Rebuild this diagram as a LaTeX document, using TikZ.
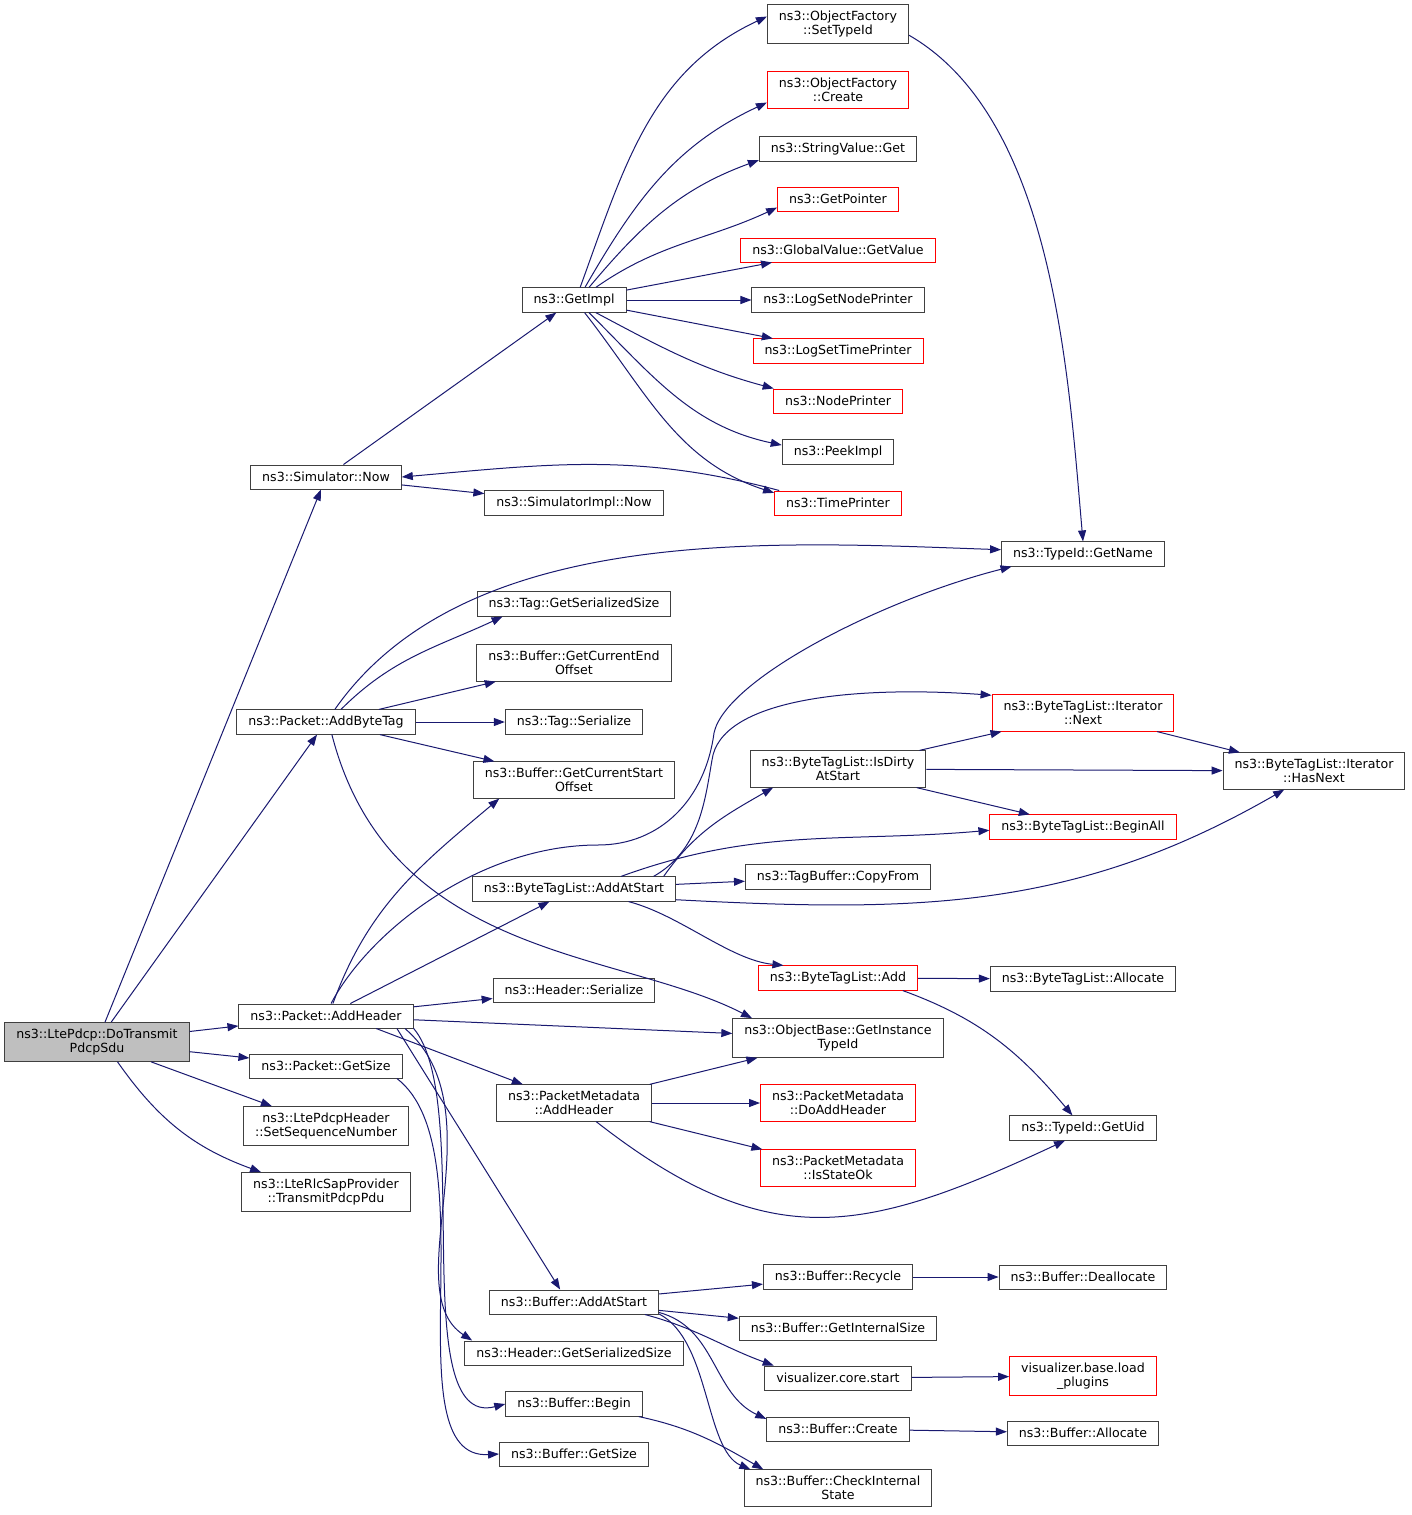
\documentclass[tikz,border=0pt]{standalone}
\usepackage{fontspec}
\setmainfont{DejaVu Sans}
\usetikzlibrary{arrows.meta}
\definecolor{callblue}{HTML}{191970}
\definecolor{boxline}{HTML}{404040}
\definecolor{rootgrey}{HTML}{BFBFBF}
\tikzset{
	fn/.style={draw=boxline, line width=1pt, fill=white, align=center, inner xsep=11.5pt, inner ysep=6pt, minimum height=24pt, font=\fontsize{12.6}{14.5}\selectfont},
	fnred/.style={fn, draw=red},
	fnroot/.style={fn, fill=rootgrey},
	call/.style={draw=callblue, line width=1pt, -{Triangle[length=11pt,width=8pt]}}
}

\begin{document}
\begin{tikzpicture}[x=1pt, y=1pt]
			%%%%% START %%%%%
			\fill[white] (0, 0) rectangle (1411, -1515);
			
			\node[fnroot] (main) at (97, -1042) {ns3::LtePdcp::DoTransmit\\PdcpSdu};
			
			\node[fn] (simnow) at (326, -477) {ns3::Simulator::Now};
			\node[fn] (simimplnow) at (574, -503) {ns3::SimulatorImpl::Now};
			\node[fn] (getimpl) at (574, -300) {ns3::GetImpl};
			
			\node[fn] (settypeid) at (838, -24) {ns3::ObjectFactory\\::SetTypeId};
			\node[fnred] (create) at (838, -90) {ns3::ObjectFactory\\::Create};
			\node[fn] (strget) at (838, -149) {ns3::StringValue::Get};
			\node[fnred] (getptr) at (838, -199) {ns3::GetPointer};
			\node[fnred] (getvalue) at (838, -250) {ns3::GlobalValue::GetValue};
			\node[fn] (lognode) at (838, -300) {ns3::LogSetNodePrinter};
			\node[fnred] (logtime) at (838, -351) {ns3::LogSetTimePrinter};
			\node[fnred] (nodeprn) at (838, -401) {ns3::NodePrinter};
			\node[fn] (peekimpl) at (838, -452) {ns3::PeekImpl};
			\node[fnred] (timeprn) at (838, -503) {ns3::TimePrinter};
			\node[fn] (getname) at (1083, -554) {ns3::TypeId::GetName};
			
			\node[fn] (addbytetag) at (326, -722) {ns3::Packet::AddByteTag};
			\node[fn] (taggss) at (574, -604) {ns3::Tag::GetSerializedSize};
			\node[fn] (curend) at (574, -663) {ns3::Buffer::GetCurrentEnd\\Offset};
			\node[fn] (tagser) at (574, -722) {ns3::Tag::Serialize};
			\node[fn] (curstart) at (574, -780) {ns3::Buffer::GetCurrentStart\\Offset};
			
			\node[fnred] (itnext) at (1083, -713) {ns3::ByteTagList::Iterator\\::Next};
			\node[fn] (isdirty) at (838, -769) {ns3::ByteTagList::IsDirty\\AtStart};
			\node[fn] (hasnext) at (1314, -771) {ns3::ByteTagList::Iterator\\::HasNext};
			\node[fnred] (beginall) at (1083, -827) {ns3::ByteTagList::BeginAll};
			\node[fn] (copyfrom) at (838, -877) {ns3::TagBuffer::CopyFrom};
			\node[fn] (btladdstart) at (574, -889) {ns3::ByteTagList::AddAtStart};
			\node[fnred] (btladd) at (838, -978) {ns3::ByteTagList::Add};
			\node[fn] (btlalloc) at (1083, -979) {ns3::ByteTagList::Allocate};
			
			\node[fn] (hdrser) at (574, -990) {ns3::Header::Serialize};
			\node[fn] (addheader) at (326, -1016) {ns3::Packet::AddHeader};
			\node[fn] (insttype) at (838, -1038) {ns3::ObjectBase::GetInstance\\TypeId};
			\node[fn] (pktsize) at (326, -1066) {ns3::Packet::GetSize};
			\node[fn] (pmaddhdr) at (574, -1103) {ns3::PacketMetadata\\::AddHeader};
			\node[fnred] (pmdoadd) at (838, -1103) {ns3::PacketMetadata\\::DoAddHeader};
			\node[fn] (setseq) at (326, -1126) {ns3::LtePdcpHeader\\::SetSequenceNumber};
			\node[fn] (getuid) at (1083, -1128) {ns3::TypeId::GetUid};
			\node[fnred] (pmstate) at (838, -1168) {ns3::PacketMetadata\\::IsStateOk};
			\node[fn] (transmit) at (326, -1192) {ns3::LteRlcSapProvider\\::TransmitPdcpPdu};
			
			\node[fn] (bufaddstart) at (574, -1302) {ns3::Buffer::AddAtStart};
			\node[fn] (recycle) at (838, -1277) {ns3::Buffer::Recycle};
			\node[fn] (dealloc) at (1083, -1277) {ns3::Buffer::Deallocate};
			\node[fn] (intsize) at (838, -1328) {ns3::Buffer::GetInternalSize};
			\node[fn] (hdrgss) at (574, -1353) {ns3::Header::GetSerializedSize};
			\node[fn] (vizstart) at (838, -1378) {visualizer.core.start};
			\node[fnred] (vizload) at (1083, -1376) {visualizer.base.load\\\_plugins};
			\node[fn] (bufbegin) at (574, -1404) {ns3::Buffer::Begin};
			\node[fn] (bufcreate) at (838, -1429) {ns3::Buffer::Create};
			\node[fn] (bufalloc) at (1083, -1433) {ns3::Buffer::Allocate};
			\node[fn] (bufsize) at (574, -1454) {ns3::Buffer::GetSize};
			\node[fn] (checkstate) at (838, -1488) {ns3::Buffer::CheckInternal\\State};
			
			% calls of the root
			\draw[call] (main) -- (simnow);
			\draw[call] (main) -- (addbytetag);
			\draw[call] (main) -- (addheader);
			\draw[call] (main) -- (pktsize);
			\draw[call] (main) -- (setseq);
			\draw[call] (main.-44) to[out=-55, in=160] (transmit.163);
			
			% simulator
			\draw[call] (simnow) -- (getimpl);
			\draw[call] (simnow) -- (simimplnow);
			\draw[call] (getimpl.64) to[out=70, in=205] (settypeid.174);
			\draw[call] (getimpl.49) to[out=60, in=205] (create.190);
			\draw[call] (getimpl.40) to[out=50, in=200] (strget.188);
			\draw[call] (getimpl.30) to[out=35, in=205] (getptr.188);
			\draw[call] (getimpl) -- (getvalue);
			\draw[call] (getimpl) -- (lognode);
			\draw[call] (getimpl) -- (logtime);
			\draw[call] (getimpl.-30) to[out=-28, in=165] (nodeprn.169);
			\draw[call] (getimpl.-40) to[out=-45, in=168] (peekimpl.173);
			\draw[call] (getimpl.-50) to[out=-52, in=162] (timeprn.171);
			\draw[call] (timeprn.168) to[out=165, in=5] (simnow.east);
			\draw[call] (settypeid.-9) to[out=-30, in=95, looseness=0.8] (getname.north);
			
			% byte tags
			\draw[call] (addbytetag.55) to[out=55, in=178, looseness=0.85] (getname.177);
			\draw[call] (addbytetag.40) to[out=45, in=205] (taggss.190);
			\draw[call] (addbytetag) -- (curend);
			\draw[call] (addbytetag) -- (tagser);
			\draw[call] (addbytetag) -- (curstart);
			\draw[call] (addbytetag.-65) .. controls (390, -960) and (620, -950) .. (insttype.167);
			
			\draw[call] (btladdstart.9) .. controls (700, -850) and (705, -800) .. (712, -760) .. controls (720, -700) and (850, -685) .. (itnext.169);
			\draw[call] (btladdstart.8) to[out=55, in=210] (isdirty.-164);
			\draw[call] (btladdstart.15) to[out=20, in=185] (beginall.182);
			\draw[call] (btladdstart) -- (copyfrom);
			\draw[call] (btladdstart.-6) to[out=-3, in=210] (hasnext.-148);
			\draw[call] (btladdstart.-13) .. controls (680, -915) and (730, -960) .. (btladd.167);
			\draw[call] (btladd) -- (btlalloc);
			\draw[call] (btladd.-11) to[out=-20, in=130] (getuid.130);
			
			\draw[call] (isdirty) -- (itnext);
			\draw[call] (isdirty) -- (hasnext);
			\draw[call] (isdirty) -- (beginall);
			\draw[call] (itnext) -- (hasnext);
			
			% headers
			\draw[call] (addheader.61) to[out=70, in=220] (curstart.194);
			\draw[call] (addheader.68) .. controls (370, -930) and (480, -845) .. (598, -845) .. controls (660, -845) and (705, -800) .. (714, -733) .. controls (725, -680) and (880, -600) .. (getname.190);
			\draw[call] (addheader) -- (btladdstart);
			\draw[call] (addheader) -- (hdrser);
			\draw[call] (addheader) -- (insttype);
			\draw[call] (addheader.-14) -- (pmaddhdr.160);
			\draw[call] (addheader.-10) -- (bufaddstart.138);
			\draw[call] (addheader.-9) .. controls (500, -1110) and (395, -1290) .. (hdrgss.173);
			\draw[call] (addheader.-8) .. controls (475, -1100) and (405, -1430) .. (bufbegin.west);
			\draw[call] (pktsize.-10) .. controls (490, -1150) and (390, -1460) .. (bufsize.west);
			
			\draw[call] (pmaddhdr) -- (insttype);
			\draw[call] (pmaddhdr) -- (pmdoadd);
			\draw[call] (pmaddhdr) -- (pmstate);
			\draw[call] (pmaddhdr.-40) to[out=-38, in=205, looseness=1.2] (getuid.-145);
			
			% buffer
			\draw[call] (bufaddstart) -- (recycle);
			\draw[call] (bufaddstart) -- (intsize);
			\draw[call] (bufaddstart.-10) to[out=-15, in=160] (vizstart.169);
			\draw[call] (bufaddstart.-7) to[out=-15, in=155] (bufcreate.172);
			\draw[call] (bufaddstart.-8) .. controls (710, -1340) and (705, -1450) .. (checkstate.168);
			\draw[call] (bufbegin.-11) to[out=-12, in=150] (checkstate.166);
			\draw[call] (recycle) -- (dealloc);
			\draw[call] (vizstart) -- (vizload);
			\draw[call] (bufcreate) -- (bufalloc);
			%%%%% END %%%%%
\end{tikzpicture}
\end{document}
